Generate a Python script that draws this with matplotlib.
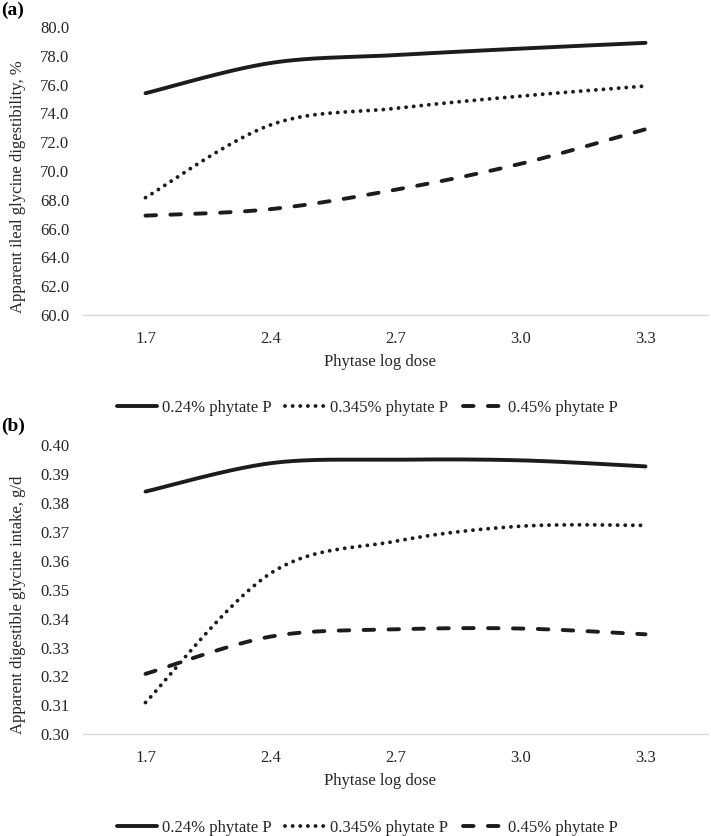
import matplotlib
matplotlib.use("Agg")
import matplotlib.pyplot as plt
import numpy as np

plt.rcParams['font.family'] = ['Liberation Serif', 'DejaVu Serif']

doses = ['1.7', '2.4', '2.7', '3.0', '3.3']
series = ['0.24% phytate P', '0.345% phytate P', '0.45% phytate P']

# (a) apparent ileal glycine digestibility, %
dig_024 = [75.4, 77.5, 78.05, 78.5, 78.9]
dig_0345 = [68.15, 73.2, 74.35, 75.2, 75.9]
dig_045 = [66.9, 67.35, 68.7, 70.5, 72.9]

# (b) apparent digestible glycine intake, g/d
int_024 = [0.3840, 0.3938, 0.3950, 0.3948, 0.3927]
int_0345 = [0.3110, 0.3557, 0.3668, 0.3720, 0.3723]
int_045 = [0.3209, 0.3338, 0.3363, 0.3366, 0.3346]

INK = '#1c1c1c'
TXT = '#262626'


def smooth(y, n=40):
    # excel-style smoothed line (cubic bezier, tension 1/6)
    x = np.arange(len(y), dtype=float)
    y = np.asarray(y, dtype=float)
    pts = np.column_stack([x, y])
    out = [pts[:1]]
    t = np.linspace(0, 1, n)[1:, None]
    for i in range(len(pts) - 1):
        p0 = pts[max(i - 1, 0)]
        p1, p2 = pts[i], pts[i + 1]
        p3 = pts[min(i + 2, len(pts) - 1)]
        c1 = p1 + (p2 - p0) / 6
        c2 = p2 - (p3 - p1) / 6
        seg = ((1 - t) ** 3) * p1 + 3 * ((1 - t) ** 2) * t * c1 + 3 * (1 - t) * t ** 2 * c2 + t ** 3 * p2
        out.append(seg)
    out = np.vstack(out)
    return out[:, 0], out[:, 1]


styles = [
    dict(linestyle='-', solid_capstyle='round'),
    dict(linestyle=(0, (0.01, 1.95)), dash_capstyle='round'),
    dict(linestyle=(0, (2.7, 3.7)), dash_capstyle='round'),
]

fig = plt.figure(figsize=(7.11, 8.36), dpi=100)
W, H = 711.0, 836.0


def panel(top, bottom, data, ylim, yticks, fmt, ylabel, ylab_y, tag, tag_y, legend_y):
    ax = fig.add_axes([83 / W, 1 - bottom / H, 625 / W, (bottom - top) / H])
    for vals, st, name in zip(data, styles, series):
        xs, ys = smooth(vals)
        ax.plot(xs, ys, color=INK, lw=2.8, label=name, **st)
    ax.set_xlim(-0.5, len(doses) - 0.5)
    ax.set_ylim(*ylim)
    ax.set_yticks(yticks)
    ax.set_yticklabels([fmt.format(v) for v in yticks])
    ax.set_xticks(range(len(doses)))
    ax.set_xticklabels(doses)
    for s in ['top', 'right', 'left']:
        ax.spines[s].set_visible(False)
    ax.spines['bottom'].set_color('#d9d9d9')
    ax.spines['bottom'].set_linewidth(1.0)
    ax.tick_params(axis='y', length=0, pad=10, labelsize=12, labelcolor=TXT)
    ax.tick_params(axis='x', length=0, pad=11.5, labelsize=12, labelcolor=TXT)
    fig.text(18 / W, 1 - ylab_y / H, ylabel, rotation=90, ha='center', va='center',
             fontsize=12, color=TXT)
    fig.text(380 / W, 1 - (bottom + 47) / H, 'Phytase log dose', ha='center', va='center',
             fontsize=12, color=TXT)
    fig.text(1 / W, 1 - tag_y / H, tag, ha='left', va='center', fontsize=14,
             fontweight='bold', color='black')
    ax.legend(loc='center', bbox_to_anchor=(367 / W, 1 - legend_y / H),
              bbox_transform=fig.transFigure, ncol=3, frameon=False, fontsize=12,
              handlelength=2.4, handletextpad=0.3, columnspacing=0.85,
              labelcolor=TXT)
    return ax


panel(27, 315, [dig_024, dig_0345, dig_045], (60, 80), np.arange(60, 80.1, 2.0), '{:.1f}',
      'Apparent ileal glycine digestibility, %', 187, '(a)', 10, 408)
panel(445.3, 734.3, [int_024, int_0345, int_045], (0.30, 0.40), np.arange(0.30, 0.4001, 0.01), '{:.2f}',
      'Apparent digestible glycine intake, g/d', 605, '(b)', 426, 828)

fig.savefig('out.png', dpi=100)
